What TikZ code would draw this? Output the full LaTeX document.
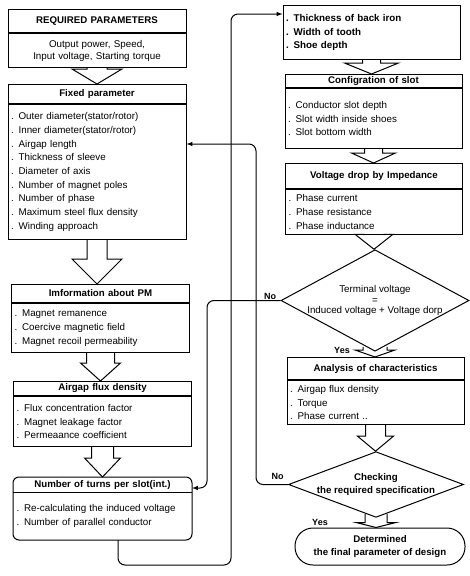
\documentclass[tikz,border=0pt]{standalone}
\usepackage{fontspec}
\setmainfont{Liberation Sans}
\usetikzlibrary{arrows, shapes.geometric, calc, positioning}
\newcommand{\hdrFont}{\fontsize{9.7}{11}\selectfont\bfseries}
\newcommand{\itmFont}{\fontsize{9.8}{13.7}\selectfont}
\tikzset{
    hdrBox/.style={draw, anchor=north, inner sep=1pt, align=center, font=\hdrFont},
    itmBox/.style={draw, inner xsep=3pt, inner ysep=2pt, align=left, font=\itmFont},
    leftCol/.style={minimum width=178pt, text width=172pt},
    rightCol/.style={minimum width=177pt, text width=171pt},
    decision/.style={diamond, draw, inner sep=0pt, align=center},
    finalBox/.style={draw, rounded corners=18pt, inner sep=1pt, align=center, minimum width=170pt, minimum height=37pt, font=\fontsize{9.7}{13}\selectfont\bfseries},
    lblText/.style={inner sep=0pt, font=\fontsize{9}{10}\selectfont\bfseries},
    flowEdge/.style={->, >=latex, rounded corners=7pt},
    hollowEdge/.style={line join=miter},
}
% block arrow: from, to, stem half width, head half width, head length
\newcommand{\drawHollow}[5]{
    \draw[hollowEdge] ($(#1)+(-#3,0)$) -- ($(#1 |- #2)+(-#3,-#5)$) -- ++(#3-#4,0) -- (#1 |- #2) -- ++(#4,-#5) -- ++(#3-#4,0) -- ($(#1)+(#3,0)$);
}

\begin{document}
\begin{tikzpicture}[x=1pt, y=-1pt, line width=1pt]
    \useasboundingbox (0,0) rectangle (469,576);

    % left column
    \node[hdrBox, leftCol, minimum height=23] (reqHead) at (97,9) {REQUIRED PARAMETERS};
    \node[itmBox, leftCol, minimum height=34, align=center, font=\fontsize{9.8}{12}\selectfont, below=0pt of reqHead] (req) {Output power, Speed,\\Input voltage, Starting torque};

    \node[hdrBox, leftCol, minimum height=19] (fixedHead) at (97,84) {Fixed parameter};
    \node[itmBox, leftCol, minimum height=135, below=0pt of fixedHead] (fixed) {. Outer diameter(stator/rotor)\\. Inner diameter(stator/rotor)\\. Airgap length\\. Thickness of sleeve\\. Diameter of axis\\. Number of magnet poles\\. Number of phase\\. Maximum steel flux density\\. Winding approach};

    \node[hdrBox, leftCol, minimum height=18] (infoHead) at (100.5,284) {Imformation about PM};
    \node[itmBox, leftCol, minimum height=49, below=0pt of infoHead] (info) {. Magnet remanence\\. Coercive magnetic field\\. Magnet recoil permeability};

    \node[hdrBox, leftCol, minimum height=14] (airgapHead) at (102.5,381) {Airgap flux density};
    \node[itmBox, leftCol, minimum height=50, below=0pt of airgapHead] (airgap) {. Flux concentration factor\\. Magnet leakage factor\\. Permeaance coefficient};

    \node[hdrBox, leftCol, draw=none, minimum height=14] (turnsHead) at (102.5,477) {Number of turns per slot(int.)};
    \node[itmBox, leftCol, draw=none, minimum height=47, below=0pt of turnsHead] (turns) {. Re-calculating the induced voltage\\. Number of parallel conductor};
    \draw[rounded corners=6pt] (turnsHead.north west) rectangle (turns.south east);
    \draw (turnsHead.south west) -- (turnsHead.south east);

    % right column
    \node[itmBox, rightCol, minimum height=54, anchor=north, font=\itmFont\bfseries] (thick) at (371.5,5) {. Thickness of back iron\\. Width of tooth\\. Shoe depth};

    \node[hdrBox, rightCol, minimum height=13] (configHead) at (373.5,74) {Configration of slot};
    \node[itmBox, rightCol, minimum height=60, below=0pt of configHead] (config) {. Conductor slot depth\\. Slot width inside shoes\\. Slot bottom width};

    \node[hdrBox, rightCol, minimum height=25] (voltHead) at (374,163) {Voltage drop by Impedance};
    \node[itmBox, rightCol, minimum height=45, below=0pt of voltHead] (volt) {. Phase current\\. Phase resistance\\. Phase inductance};

    \node[decision, minimum width=188, minimum height=85, font=\fontsize{9.8}{10.5}\selectfont] (term) at (375,300.5) {Terminal voltage\\=\\\makebox[0pt]{Induced voltage + Voltage dorp}};

    \node[hdrBox, rightCol, minimum height=22] (analysisHead) at (375.5,357) {Analysis of characteristics};
    \node[itmBox, rightCol, minimum height=44, below=0pt of analysisHead] (analysis) {. Airgap flux density\\. Torque\\. Phase current ..};

    \node[decision, minimum width=175, minimum height=65, font=\fontsize{9.7}{13}\selectfont\bfseries] (check) at (376,484.5) {Checking\\\makebox[0pt]{the required specification}};

    \node[finalBox] (final) at (380,546.5) {Determined\\the final parameter of design};

    % block arrows
    \coordinate (termOut) at ($(term.south)+(0,-5)$);
    \coordinate (checkOut) at ($(check.south)+(0,-4)$);
    \drawHollow{req.south}{fixedHead.north}{10}{25}{15}
    \drawHollow{fixed.south}{infoHead.north}{10}{25}{25}
    \drawHollow{info.south}{airgapHead.north}{14}{20}{18}
    \drawHollow{airgap.south}{turnsHead.north}{11}{18}{19}
    \drawHollow{thick.south}{configHead.north}{9}{27}{11}
    \drawHollow{config.south}{voltHead.north}{9}{22}{10}
    \drawHollow{volt.south}{term.north}{10}{19}{15}
    \drawHollow{termOut}{analysisHead.north}{12}{20}{7}
    \drawHollow{analysis.south}{check.north}{10}{18}{15}
    \drawHollow{checkOut}{final.north}{11}{20}{5}

    % feedback lines
    \coordinate (backTop) at (256,144);
    \coordinate (noLeft) at (207,488);
    \coordinate (loopLow) at (118,565);
    \coordinate (loopHigh) at (231,14);
    \draw[flowEdge] (check.west) -| (backTop) -- (backTop -| fixed.east);
    \draw[flowEdge] (term.west) -| (noLeft) -- (noLeft -| turns.east);
    \draw[flowEdge] (turns.south -| loopLow) -- (loopLow) -| (loopHigh) -- (loopHigh -| thick.west);

    \node[lblText, anchor=south east] (noTerm) at ($(term.west)+(-4,0)$) {No};
    \node[lblText, anchor=south east] (noCheck) at ($(check.west)+(-4,-4)$) {No};
    \node[lblText] (yesTerm) at (342,350) {Yes};
    \node[lblText] (yesCheck) at (320,522) {Yes};

\end{tikzpicture}
\end{document}
